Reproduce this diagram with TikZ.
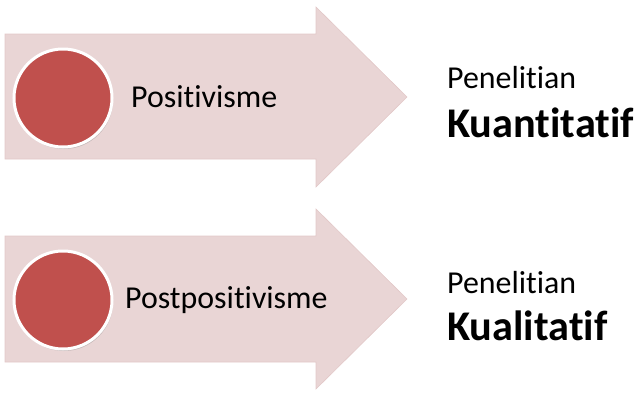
\documentclass[tikz,border=0pt]{standalone}
\usepackage{fontspec}
\setmainfont{Carlito}[RawFeature=-liga]
\usepackage{tikz}
\usetikzlibrary{positioning, shadows}

\definecolor{merah}{HTML}{C0504D}
\definecolor{panah}{HTML}{E9D5D5}
\definecolor{tepi}{HTML}{E2C8C8}

\tikzset{
  panahbox/.style={fill=panah, draw=tepi, line width=0.6pt},
  bulat/.style={circle, fill=merah, draw=white, line width=3pt, minimum size=98pt, inner sep=0pt,
    drop shadow={opacity=0.35, shadow xshift=1pt, shadow yshift=-2pt}},
  teks/.style={inner sep=0pt, anchor=base west, font=\fontsize{31.9}{32}\selectfont},
  tebal/.style={inner sep=0pt, anchor=base west, font=\fontsize{42.3}{42}\selectfont\bfseries}
}

\begin{document}
\begin{tikzpicture}[x=1pt, y=-1pt]
  \useasboundingbox (0,0) rectangle (643,394);
  % panah atas dan bawah
  \draw[panahbox] (5,34) -- (316,34) -- (316,7) -- (407,97) -- (316,187) -- (316,159) -- (5,159) -- cycle;
  \draw[panahbox] (5,236) -- (316,236) -- (316,209) -- (407,299) -- (316,389) -- (316,362) -- (5,362) -- cycle;

  \node[bulat] (c1) at (63,98) {};
  \node[bulat] (c2) at (63,300) {};

  \node[teks] (pos) at (131,107) {Positivisme};
  \node[teks] (postpos) at (125,308) {Postpositivisme};

  \node[teks] (pen1) at (447,88) {Penelitian};
  \node[tebal] (kuan) at (447,137) {Kuantitatif};
  \node[teks] (pen2) at (447,293) {Penelitian};
  \node[tebal] (kual) at (447,340) {Kualitatif};
\end{tikzpicture}
\end{document}
